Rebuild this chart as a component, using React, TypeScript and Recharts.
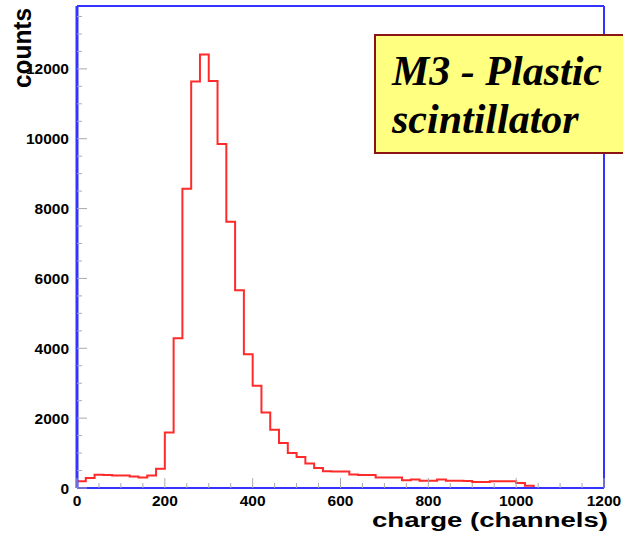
import { LineChart, Line, XAxis, YAxis, ReferenceLine } from "recharts";

// bin start (channels), 20 channels per bin
const binStart = [
  0, 20, 40, 60, 80, 100, 120, 140, 160, 180, 200, 220, 240, 260, 280, 300,
  320, 340, 360, 380, 400, 420, 440, 460, 480, 500, 520, 540, 560, 580, 600,
  620, 640, 660, 680, 700, 720, 740, 760, 780, 800, 820, 840, 860, 880, 900,
  920, 940, 960, 980, 1000, 1020, 1040, 1200,
];

const counts = [
  190, 285, 380, 370, 360, 360, 330, 300, 360, 550, 1590, 4290, 8570, 11640,
  12410, 11650, 9850, 7620, 5660, 3830, 2930, 2160, 1670, 1290, 1000, 890, 700,
  570, 480, 470, 470, 390, 370, 370, 300, 300, 300, 220, 240, 210, 210, 240,
  210, 210, 200, 170, 170, 190, 190, 190, 145, 65, 0, 0,
];

const xTicks = [
  0, 50, 100, 150, 200, 250, 300, 350, 400, 450, 500, 550, 600, 650, 700, 750,
  800, 850, 900, 950, 1000, 1050, 1100, 1150, 1200,
];
const xLabels = [0, 200, 400, 600, 800, 1000, 1200];

const yTicks = [
  0, 500, 1000, 1500, 2000, 2500, 3000, 3500, 4000, 4500, 5000, 5500, 6000,
  6500, 7000, 7500, 8000, 8500, 9000, 9500, 10000, 10500, 11000, 11500, 12000,
  12500, 13000, 13500,
];
const yLabels = [0, 2000, 4000, 6000, 8000, 10000, 12000];

const data = binStart.map((x, i) => ({ x, y: counts[i] }));

const FRAME = "#3333ff";
const TICK = "#aaaaaa";

const XTick = (props: any) => {
  const { x, y, payload } = props;
  const major = xLabels.includes(payload.value);
  return (
    <g>
      <line x1={x} y1={y} x2={x} y2={y - (major ? 10 : 5)} stroke={TICK} strokeWidth={1} />
      {major && (
        <text
          x={x}
          y={y + 18}
          textAnchor="middle"
          fontFamily="'Liberation Sans', Arial, sans-serif"
          fontWeight="bold"
          fontSize={15.5}
          fill="#000"
        >
          {payload.value}
        </text>
      )}
    </g>
  );
};

const YTick = (props: any) => {
  const { x, y, payload } = props;
  const major = yLabels.includes(payload.value);
  return (
    <g>
      <line x1={x} y1={y} x2={x + (major ? 10 : 5)} y2={y} stroke={TICK} strokeWidth={1} />
      {major && (
        <text
          x={x - 8}
          y={y + 5.5}
          textAnchor="end"
          fontFamily="'Liberation Sans', Arial, sans-serif"
          fontWeight="bold"
          fontSize={15.5}
          fill="#000"
        >
          {payload.value}
        </text>
      )}
    </g>
  );
};

export default function App() {
  return (
    <div style={{ position: "relative", width: 623, height: 537, overflow: "hidden", background: "#fff" }}>
      <style>{"body{margin:0}"}</style>
      <LineChart width={623} height={537} data={data} margin={{ top: 6, right: 19, left: 0, bottom: 0 }}>
        <XAxis
          type="number"
          dataKey="x"
          domain={[0, 1200]}
          ticks={xTicks}
          interval={0}
          height={49}
          tickSize={0}
          tickMargin={0}
          tick={<XTick />}
          axisLine={{ stroke: FRAME, strokeWidth: 2 }}
          tickLine={false}
        />
        <YAxis
          type="number"
          domain={[0, 13800]}
          ticks={yTicks}
          interval={0}
          width={77}
          tickSize={0}
          tickMargin={0}
          tick={<YTick />}
          axisLine={{ stroke: FRAME, strokeWidth: 3 }}
          tickLine={false}
          allowDataOverflow
        />
        <ReferenceLine y={13800} stroke={FRAME} strokeWidth={2} />
        <ReferenceLine x={1200} stroke={FRAME} strokeWidth={2} />
        <Line
          type="stepAfter"
          dataKey="y"
          stroke="#ff2a2a"
          strokeWidth={2}
          dot={false}
          isAnimationActive={false}
        />
      </LineChart>
      <svg
        width={623}
        height={537}
        style={{ position: "absolute", left: 0, top: 0, pointerEvents: "none" }}
      >
        <text
          transform="rotate(-90, 31, 88)"
          x={31}
          y={88}
          fontFamily="'Liberation Sans', Arial, sans-serif"
          fontWeight="bold"
          fontSize={25}
          textLength={80}
          lengthAdjust="spacingAndGlyphs"
          fill="#000"
        >
          counts
        </text>
        <text
          x={372}
          y={527}
          fontFamily="'Liberation Sans', Arial, sans-serif"
          fontWeight="bold"
          fontSize={20}
          textLength={236}
          lengthAdjust="spacingAndGlyphs"
          fill="#000"
        >
          charge (channels)
        </text>
        <rect x={375} y={35} width={260} height={118} fill="#ffff80" stroke="#8b1515" strokeWidth={2} />
        <text
          x={392}
          y={85}
          fontFamily="'Liberation Serif', 'Times New Roman', serif"
          fontWeight="bold"
          fontStyle="italic"
          fontSize={42}
          fill="#000"
        >
          M3 - Plastic
        </text>
        <text
          x={392}
          y={133}
          fontFamily="'Liberation Serif', 'Times New Roman', serif"
          fontWeight="bold"
          fontStyle="italic"
          fontSize={42}
          fill="#000"
        >
          scintillator
        </text>
      </svg>
    </div>
  );
}
